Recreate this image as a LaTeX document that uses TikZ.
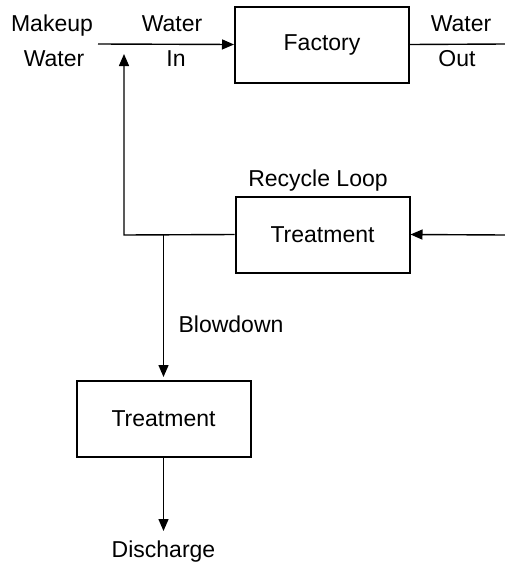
\documentclass[tikz,border=0pt]{standalone}
\usepackage{fontspec}
\setmainfont{Liberation Sans}
\usetikzlibrary{arrows.meta}
\begin{document}
\begin{tikzpicture}[x=1pt,y=-1pt,
  flow/.style={line width=1.4pt},
  arr/.style={flow,-{Triangle[length=12pt,width=10pt]}},
  unit/.style={draw,line width=2pt,minimum width=174pt,minimum height=76pt,
    font=\fontsize{23}{28}\selectfont},
  lbl/.style={anchor=base,inner sep=0pt,font=\fontsize{23}{28}\selectfont}]
\useasboundingbox (0,0) rectangle (504,565);

% process units
\node[unit] (factory) at (322,44.5) {Factory};
\node[unit] (recycle) at (322.5,234.5) {Treatment};
\node[unit] (final) at (163.5,419) {Treatment};

% free ends and junctions
\coordinate (makeup) at (98,44);
\coordinate (outR) at (505,44);
\coordinate (retR) at (505,235);
\coordinate (corner) at (124,235);
\coordinate (join) at (124,54);
\coordinate (split) at (163.5,235);
\coordinate (dis) at (163.5,531);

% connectors
\draw[arr] (makeup) -- (factory.west);
\draw[flow] (factory.east) -- (outR);
\draw[arr] (retR) -- (recycle.east);
\draw[arr] (recycle.west) -- (corner) -- (join);
\draw[arr,shorten >=3pt] (split) -- (final.north);
\draw[arr] (final.south) -- (dis);

% labels
\node[lbl] (mk1) at (52,31) {Makeup};
\node[lbl] (mk2) at (54,66) {Water};
\node[lbl] (wi1) at (172,31) {Water};
\node[lbl] (wi2) at (176,66) {In};
\node[lbl] (wo1) at (461,31) {Water};
\node[lbl] (wo2) at (457,66) {Out};
\node[lbl] (loop) at (318,186) {Recycle Loop};
\node[lbl] (blow) at (231,332) {Blowdown};
\node[lbl] (disc) at (163.5,557) {Discharge};
\end{tikzpicture}
\end{document}
